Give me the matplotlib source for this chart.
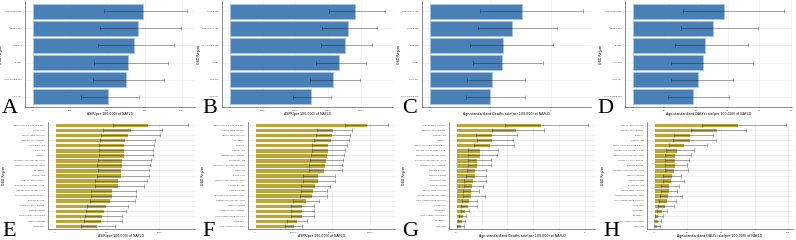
import matplotlib.pyplot as plt
import numpy as np

# SDI-level panels (top row)
sdi_A = ["Low-middle SDI", "Middle SDI", "Low SDI", "Global", "High-middle SDI", "High SDI"]
val_A = [741, 703, 681, 640, 622, 503]
lo_A = [479, 451, 440, 411, 402, 326]
hi_A = [1036, 991, 950, 905, 882, 712]

sdi_B = ["Middle SDI", "Low-middle SDI", "High-middle SDI", "Global", "Low SDI", "High SDI"]
val_B = [19100, 18000, 17580, 16700, 15770, 12320]
lo_B = [15150, 14070, 13870, 13140, 12220, 9690]
hi_B = [23700, 22400, 21650, 20720, 19790, 15460]

sdi_C = ["Low-middle SDI", "Middle SDI", "Low SDI", "Global", "High SDI", "High-middle SDI"]
val_C = [1.53, 1.36, 1.21, 1.19, 1.03, 1.00]
lo_C = [0.84, 0.80, 0.66, 0.71, 0.62, 0.60]
hi_C = [2.54, 2.11, 2.04, 1.88, 1.58, 1.57]

sdi_D = ["Low-middle SDI", "Middle SDI", "Global", "Low SDI", "High SDI", "High-middle SDI"]
val_D = [28.9, 25.4, 22.8, 22.3, 20.5, 19.2]
lo_D = [15.8, 15.2, 13.3, 12.1, 12.1, 11.3]
hi_D = [47.9, 39.7, 36.4, 37.9, 31.8, 30.5]

# GBD regions (bottom row)
reg_E = ["North Africa and Middle East", "South Asia", "Tropical Latin America", "Central Latin America",
         "Southeast Asia", "East Asia", "Oceania", "Southern Sub-Saharan Africa",
         "Western Sub-Saharan Africa", "Caribbean", "Central Asia", "Andean Latin America",
         "Eastern Sub-Saharan Africa", "Central Sub-Saharan Africa", "High-income North America",
         "Eastern Europe", "Southern Latin America", "Central Europe", "High-income Asia Pacific",
         "Western Europe", "Australasia"]
val_E = [895, 729, 705, 678, 663, 663, 660, 648, 642, 636, 636, 611, 608, 551, 548, 527, 491, 476, 452, 446, 401]
lo_E = [563, 467, 443, 431, 425, 425, 422, 416, 407, 413, 410, 389, 389, 352, 349, 334, 307, 298, 289, 280, 253]
hi_E = [1280, 1024, 1006, 961, 949, 946, 940, 925, 910, 901, 907, 880, 858, 783, 780, 765, 699, 681, 648, 645, 581]

reg_F = ["North Africa and Middle East", "Andean Latin America", "Tropical Latin America", "Caribbean",
         "Oceania", "Central Asia", "Central Latin America", "Southeast Asia",
         "Southern Sub-Saharan Africa", "East Asia", "South Asia", "Western Sub-Saharan Africa",
         "Eastern Europe", "Central Europe", "Eastern Sub-Saharan Africa", "Central Sub-Saharan Africa",
         "Western Europe", "Southern Latin America", "High-income North America", "Australasia",
         "High-income Asia Pacific"]
val_F = [29220, 20410, 20160, 19760, 19100, 19020, 18860, 18610, 18200, 18120, 16490, 16490,
         15590, 15100, 14940, 13220, 12410, 12240, 12160, 11020, 10120]
lo_F = [23430, 16080, 15920, 15510, 14860, 14940, 14690, 14370, 14120, 14040, 12650, 12650,
        12080, 11920, 11670, 9960, 9390, 9310, 9310, 8330, 7760]
hi_F = [34690, 25140, 24650, 24410, 23840, 23430, 23270, 23020, 22690, 22690, 20900, 20730,
        19590, 18860, 18780, 16820, 15430, 15350, 15350, 13710, 12410]

reg_G = ["Andean Latin America", "Central Latin America", "Central Asia", "Oceania",
         "North Africa and Middle East", "Eastern Sub-Saharan Africa", "Western Sub-Saharan Africa",
         "Southern Sub-Saharan Africa", "Southern Latin America", "Eastern Europe", "Western Europe",
         "Southeast Asia", "Central Europe", "Tropical Latin America", "Central Sub-Saharan Africa",
         "High-income North America", "South Asia", "Australasia", "High-income Asia Pacific",
         "Caribbean", "East Asia"]
val_G = [3.30, 2.33, 1.42, 1.41, 1.33, 0.95, 0.93, 0.84, 0.82, 0.76, 0.75, 0.67, 0.64, 0.60, 0.60,
         0.51, 0.49, 0.35, 0.28, 0.23, 0.19]
lo_G = [1.90, 1.42, 0.77, 0.81, 0.70, 0.49, 0.49, 0.46, 0.46, 0.42, 0.41, 0.34, 0.34, 0.28, 0.28,
        0.24, 0.22, 0.19, 0.13, 0.10, 0.07]
hi_G = [5.13, 3.40, 2.37, 2.22, 2.24, 1.65, 1.59, 1.37, 1.35, 1.19, 1.19, 1.17, 1.07, 0.92, 1.13,
        0.82, 0.84, 0.53, 0.41, 0.36, 0.31]

reg_H = ["Andean Latin America", "Central Latin America", "Oceania", "Central Asia",
         "North Africa and Middle East", "Eastern Sub-Saharan Africa", "Western Sub-Saharan Africa",
         "Southern Latin America", "Eastern Europe", "Southern Sub-Saharan Africa", "Western Europe",
         "Central Europe", "Southeast Asia", "Tropical Latin America", "Central Sub-Saharan Africa",
         "High-income North America", "South Asia", "Australasia", "Caribbean",
         "High-income Asia Pacific", "East Asia"]
val_H = [62.6, 46.7, 27.1, 26.9, 22.4, 17.1, 16.1, 15.9, 15.9, 15.2, 13.8, 13.1, 11.7, 11.2, 11.0,
         9.8, 8.2, 6.3, 3.5, 3.0, 2.3]
lo_H = [35.7, 28.0, 15.2, 14.5, 11.7, 8.9, 8.2, 8.4, 8.2, 8.2, 7.2, 6.8, 5.8, 5.4, 4.7,
        4.2, 3.5, 2.3, 0.7, 0.5, 0.2]
hi_H = [98.6, 68.9, 43.9, 46.5, 39.3, 29.7, 28.0, 26.2, 24.5, 25.2, 20.6, 22.4, 18.7, 17.5, 21.3,
        16.4, 15.0, 9.6, 7.0, 5.8, 4.9]

xlab_inc = "ASIR(per 100,000) of NAFLD"
xlab_prev = "ASPR(per 100,000) of NAFLD"
xlab_death = "Age-standardized Deaths rate(per 100,000) of NAFLD"
xlab_daly = "Age-standardized DALYs rate(per 100,000) of NAFLD"

BLUE = "#4a80b8"
GOLD = "#b9a63d"

# letter, categories, values, lower, upper, ticks, xlabel, colour, axes box (px), ylabel x (px), letter x (px)
panels = [
    ("A", sdi_A, val_A, lo_A, hi_A, [0, 250, 500, 750, 1000], xlab_inc, BLUE, [25, 1, 195, 107], 3, 2),
    ("B", sdi_B, val_B, lo_B, hi_B, [0, 5000, 10000, 15000, 20000], xlab_prev, BLUE, [222, 1, 393, 107], 201, 202),
    ("C", sdi_C, val_C, lo_C, hi_C, [0, 1, 2], xlab_death, BLUE, [422, 1, 591, 107], 401, 402),
    ("D", sdi_D, val_D, lo_D, hi_D, [0, 10, 20, 30, 40, 50], xlab_daly, BLUE, [625, 1, 792, 107], 603, 597),
    ("E", reg_E, val_E, lo_E, hi_E, [0, 500, 1000], xlab_inc, GOLD, [48, 122, 195, 229], 6, 2),
    ("F", reg_F, val_F, lo_F, hi_F, [0, 10000, 20000, 30000], xlab_prev, GOLD, [248, 122, 395, 229], 205, 202),
    ("G", reg_G, val_G, lo_G, hi_G, [0, 1, 2, 3, 4, 5], xlab_death, GOLD, [449, 122, 595, 229], 406, 402),
    ("H", reg_H, val_H, lo_H, hi_H, [0, 25, 50, 75, 100], xlab_daly, GOLD, [647, 122, 793, 229], 605, 603),
]

W, H = 796, 240
fig = plt.figure(figsize=(W / 100, H / 100), dpi=100)

for letter, cats, vals, lo, hi, ticks, xlab, color, box, ylx, lx in panels:
    x0, y0, x1, y1 = box
    ax = fig.add_axes([x0 / W, 1 - y1 / H, (x1 - x0) / W, (y1 - y0) / H])
    n = len(cats)
    y = np.arange(n)[::-1]
    vals = np.array(vals)
    lo = np.array(lo)
    hi = np.array(hi)
    edge = "#a9c6e3" if color == BLUE else "white"
    ax.barh(y, vals, height=0.9, color=color, edgecolor=edge, linewidth=0.6, zorder=2)
    ax.errorbar(vals, y, xerr=[vals - lo, hi - vals], fmt="none",
                ecolor=(0, 0, 0, 0.38), elinewidth=0.6, capsize=1.5, capthick=0.6, zorder=3)
    m = hi.max()
    ax.set_xlim(-0.05 * m, 1.05 * m)
    ax.set_ylim(-0.6, n - 0.4)
    ax.set_yticks(y)
    ax.set_yticklabels(cats, fontsize=1.5, color="#444444")
    ax.set_xticks(ticks)
    ax.set_xticklabels([str(t) for t in ticks], fontsize=1.6, color="#444444")
    ax.tick_params(length=1, width=0.3, pad=1.0, color="#444444")
    ax.tick_params(axis="y", length=0, pad=2.5)
    ax.grid(True, color="#ebebeb", linewidth=0.4, zorder=0)
    ax.set_axisbelow(True)
    for s in ["top", "right"]:
        ax.spines[s].set_visible(False)
    for s in ["left", "bottom"]:
        ax.spines[s].set_linewidth(0.4)
        ax.spines[s].set_color("#333333")
    ax.set_xlabel(xlab, fontsize=2.3, labelpad=0.8)
    ax.set_ylabel("GBD Region", fontsize=2.3)
    ax.yaxis.set_label_coords((ylx - x0) / (x1 - x0), 0.5)
    ly = 113 if letter in "ABCD" else 236
    fig.text(lx / W, 1 - ly / H, letter, fontsize=16, family="Liberation Serif",
             ha="left", va="baseline")

fig.savefig("out.png", dpi=100)
